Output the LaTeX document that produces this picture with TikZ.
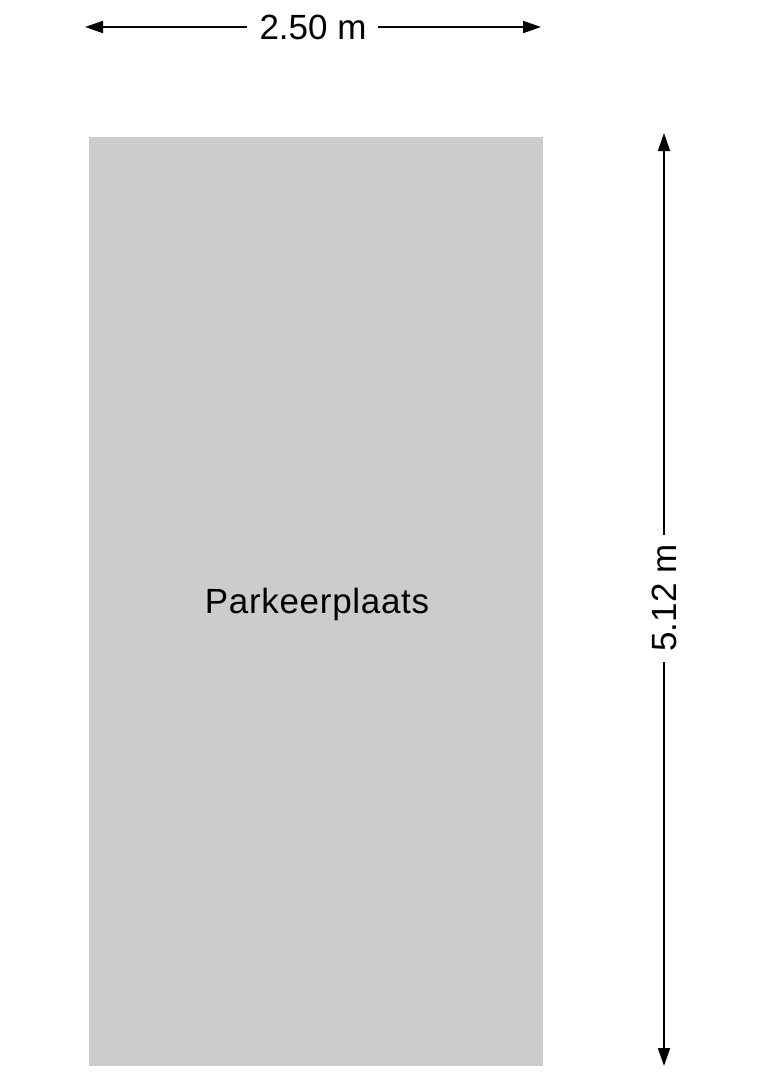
\documentclass[tikz,border=0pt]{standalone}
\usepackage{fontspec}
\setmainfont{Liberation Sans}
\usetikzlibrary{arrows.meta}
\begin{document}
\begin{tikzpicture}[x=1pt,y=-1pt,
  dimline/.style={line width=1.8pt,draw=black,-{Triangle[length=18pt,width=12pt]}},
  dimlabel/.style={font=\fontsize{35}{40}\selectfont,inner sep=0pt}]
\useasboundingbox (0,0) rectangle (764,1080);
\fill[fill={rgb,255:red,204;green,204;blue,204}] (89,137) rectangle (543,1066);
\node[dimlabel] (park) at (317,604) {\addfontfeature{LetterSpace=2}Parkeerplaats};
% top dimension
\node[dimlabel,anchor=center] (wlab) at (313,27) {2.50 m};
\coordinate (wl) at (85,27);
\coordinate (wr) at (541,27);
\draw[dimline] ([xshift=-12pt]wlab.west) -- (wl);
\draw[dimline] ([xshift=11pt]wlab.east) -- (wr);
% right dimension
\node[dimlabel,rotate=90] (hlab) at (664,598) {5.12 m};
\coordinate (ht) at (664,133);
\coordinate (hb) at (664,1066);
\draw[dimline] ([yshift=63pt]hlab.center) -- (ht);
\draw[dimline] ([yshift=-64pt]hlab.center) -- (hb);
\end{tikzpicture}
\end{document}
